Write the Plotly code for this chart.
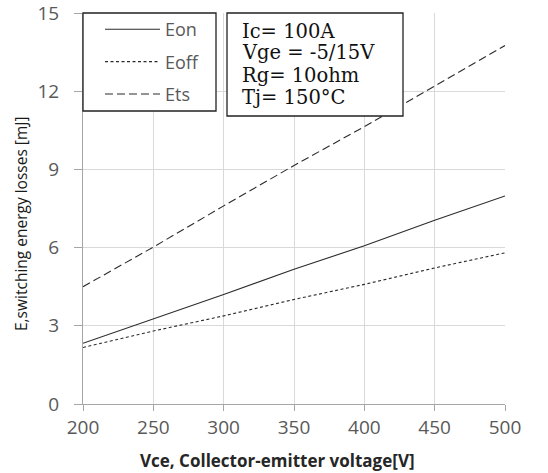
import plotly.graph_objects as go

# Data
vce = [200, 250, 300, 350, 400, 450, 500]
eon = [2.33, 3.25, 4.20, 5.17, 6.07, 7.05, 7.98]
eoff = [2.17, 2.80, 3.38, 4.01, 4.59, 5.22, 5.80]
ets = [4.50, 6.02, 7.60, 9.15, 10.64, 12.20, 13.75]

series_names = ["Eon", "Eoff", "Ets"]
series_values = [eon, eoff, ets]
series_dash = ["solid", "3px,2.5px", "8px,4px"]

x_ticks = [200, 250, 300, 350, 400, 450, 500]
y_ticks = [0, 3, 6, 9, 12, 15]

cond_lines = ["Ic= 100A", "Vge = -5/15V", "Rg= 10ohm", "Tj= 150°C"]
x_title = "<b>Vce, Collector-emitter voltage[V]</b>"
y_title = "E,switching energy losses [mJ]"

fig = go.Figure()
for name, vals, dash in zip(series_names, series_values, series_dash):
    fig.add_trace(go.Scatter(
        x=vce, y=vals, mode="lines", name=name,
        line=dict(color="#2b2b2b", width=1.1, dash=dash),
        legendgroup=name,
    ))

W, H = 548, 473
ml, mr, mt, mb = 83, 43, 13, 69
pw, ph = W - ml - mr, H - mt - mb

def px_x(px):
    return (px - ml) / pw

def px_y(py):
    return (H - mb - py) / ph

shapes = [
    # legend box
    dict(type="rect", xref="paper", yref="paper",
         x0=0, x1=px_x(216), y0=px_y(111), y1=1,
         fillcolor="white", line=dict(color="#222222", width=1.3), layer="above"),
    # conditions box
    dict(type="rect", xref="paper", yref="paper",
         x0=px_x(227), x1=px_x(403), y0=px_y(116), y1=px_y(13),
         fillcolor="white", line=dict(color="#222222", width=1.3), layer="above"),
]

annotations = []
line_y = [31, 53, 75.5, 98]
for txt, yy in zip(cond_lines, line_y):
    annotations.append(dict(
        text=txt, xref="paper", yref="paper", x=px_x(240), y=px_y(yy),
        xanchor="left", yanchor="middle", showarrow=False,
        font=dict(family="DejaVu Serif", size=19.5, color="#111111"),
    ))

# axis titles placed as annotations to match reference positions
annotations.append(dict(
    text=x_title, xref="paper", yref="paper", x=px_x(277), y=px_y(460),
    xanchor="center", yanchor="middle", showarrow=False,
    font=dict(family="Open Sans", size=17, color="#262626"),
))
annotations.append(dict(
    text=y_title, xref="paper", yref="paper", x=px_x(21), y=px_y(224),
    xanchor="center", yanchor="middle", showarrow=False, textangle=-90,
    font=dict(family="Open Sans", size=15.5, color="#1a1a1a"),
))

fig.update_layout(
    width=W, height=H,
    margin=dict(l=ml, r=mr, t=mt, b=mb, autoexpand=False),
    paper_bgcolor="white", plot_bgcolor="white",
    shapes=shapes, annotations=annotations,
    showlegend=True,
    legend=dict(
        x=px_x(100), y=px_y(11), xanchor="left", yanchor="top",
        bgcolor="rgba(0,0,0,0)", borderwidth=0,
        font=dict(family="Open Sans", size=18, color="#595959"),
        tracegroupgap=6, itemwidth=55,
    ),
    xaxis=dict(
        range=[200, 500], tickvals=x_ticks, ticktext=[str(v) for v in x_ticks],
        showgrid=True, gridcolor="#d9d9d9", gridwidth=1,
        showline=True, linecolor="#a6a6a6", linewidth=1,
        ticks="outside", ticklen=6, tickcolor="#a6a6a6",
        tickfont=dict(family="Open Sans", size=19, color="#595959"),
        ticklabeloverflow="allow", automargin=False,
        zeroline=False,
    ),
    yaxis=dict(
        range=[0, 15], tickvals=y_ticks, ticktext=[str(v) for v in y_ticks],
        showgrid=True, gridcolor="#d9d9d9", gridwidth=1,
        showline=True, linecolor="#a6a6a6", linewidth=1,
        ticks="outside", ticklen=8, tickcolor="#a6a6a6",
        tickfont=dict(family="Open Sans", size=19, color="#595959"),
        ticklabelstandoff=11, ticklabeloverflow="allow", automargin=False,
        zeroline=False,
    ),
)

fig.write_html("out.html")
